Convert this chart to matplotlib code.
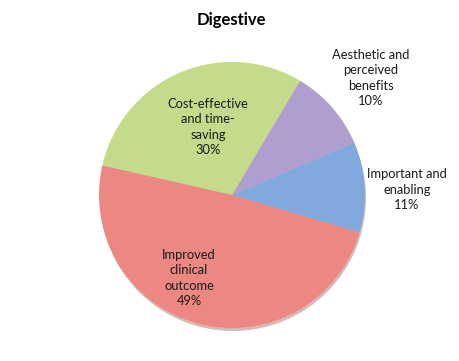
import matplotlib
matplotlib.use("Agg")
import matplotlib.pyplot as plt

plt.rcParams["font.family"] = ["Lato", "DejaVu Sans"]

# slice order: counter-clockwise starting from the red/blue boundary
categories = ["Important and\nenabling", "Aesthetic and\nperceived\nbenefits",
              "Cost-effective\nand time-\nsaving", "Improved\nclinical\noutcome"]
shares     = [11, 10, 30, 49]
colors     = ["#82A9DD", "#B19ED0", "#C4DB8C", "#EC8782"]

W, H = 460, 361
fig = plt.figure(figsize=(W / 100, H / 100), dpi=100)
ax = fig.add_axes([0, 0, 1, 1])

center = (232, H - 195)
radius = 133

# soft shadow under the pie
shadow = plt.Circle((center[0] + 1, center[1] - 3), radius, color="#8a3a36", alpha=0.35, lw=0)
ax.add_patch(shadow)

wedges, _ = ax.pie(shares, colors=colors, startangle=-16.4, counterclock=True,
                   center=center, radius=radius, frame=True,
                   wedgeprops=dict(linewidth=0))
ax.set_xlim(0, W)
ax.set_ylim(0, H)
ax.set_aspect("equal")
ax.axis("off")

label_pos = [(407, H - 190), (371, H - 78), (208, H - 127), (189, H - 278)]
for name, val, (x, y) in zip(categories, shares, label_pos):
    ax.text(x, y, f"{name}\n{val}%", ha="center", va="center",
            fontsize=9.3, color="#1a1a1a", linespacing=1.35)

ax.text(231, H - 20, "Digestive", ha="center", va="center",
        fontsize=12, fontweight="bold", color="black")

fig.savefig("out.png", dpi=100, facecolor="white")
